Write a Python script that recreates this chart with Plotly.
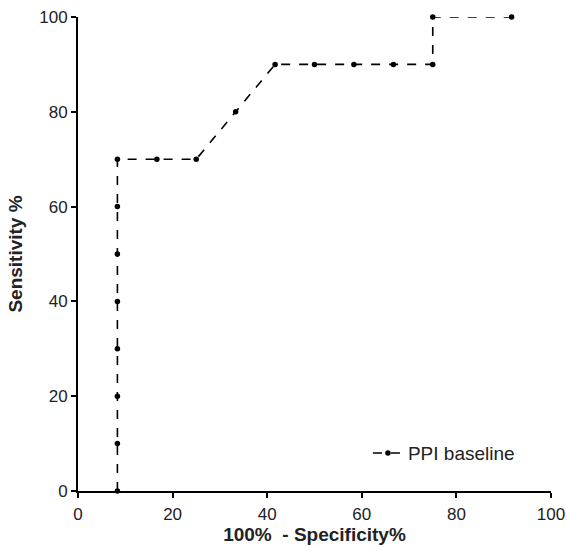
import plotly.graph_objects as go

fpr = [8.33, 8.33, 8.33, 8.33, 8.33, 8.33, 8.33, 8.33, 16.67, 25.0, 33.33, 41.67, 50.0, 58.33, 66.67, 75.0, 75.0, 91.67]
tpr = [0, 10, 20, 30, 40, 50, 60, 70, 70, 70, 80, 90, 90, 90, 90, 90, 100, 100]
series_name = "PPI baseline"
x_ticks = [0, 20, 40, 60, 80, 100]
y_ticks = [0, 20, 40, 60, 80, 100]

FONT = "Liberation Sans, Arial"
fig = go.Figure()
fig.add_trace(go.Scatter(
    x=fpr, y=tpr, mode="lines+markers", name=series_name,
    line=dict(color="black", width=1.6, dash="dash"),
    marker=dict(color="black", size=5.5, symbol="circle"),
    cliponaxis=False,
))

axis_common = dict(
    showgrid=False, zeroline=False, showline=True, linecolor="black", linewidth=2,
    ticks="outside", ticklen=5, tickwidth=1.5, tickcolor="black",
    tickfont=dict(family=FONT, size=17, color="#222"),
    range=[0, 100], automargin=False,
)
fig.update_xaxes(**axis_common, tickvals=x_ticks, ticklabelstandoff=2,
                 title=dict(text="<b>100%  - Specificity%</b>", font=dict(family=FONT, size=19, color="#222"), standoff=3))
fig.update_yaxes(**axis_common, tickvals=y_ticks,
                 title=dict(text="<b>Sensitivity %</b>", font=dict(family=FONT, size=19, color="#222"), standoff=12))

fig.update_layout(
    width=567, height=548,
    margin=dict(l=78, r=16, t=17, b=57),
    plot_bgcolor="white", paper_bgcolor="white",
    showlegend=True,
    legend=dict(x=0.613, y=0.08, xanchor="left", yanchor="middle",
                font=dict(family=FONT, size=19, color="#222"),
                bgcolor="rgba(0,0,0,0)", itemwidth=30),
)
fig.write_html("out.html")
